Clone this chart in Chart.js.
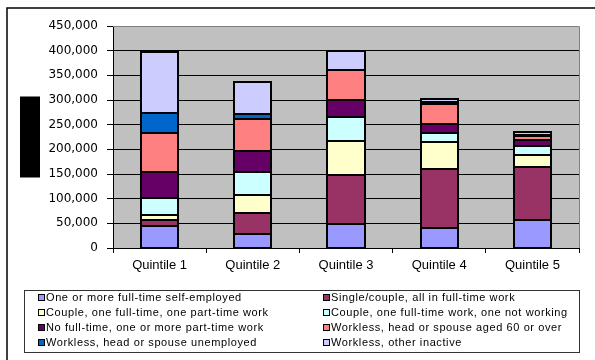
<!DOCTYPE html>
<html>
<head>
<meta charset="utf-8">
<script src="https://cdn.jsdelivr.net/npm/chart.js@4/dist/chart.umd.min.js"></script>
<style>
  body { margin: 0; background: #fff; }
  canvas { display: block; }
</style>
</head>
<body>
<canvas id="chartQuintile" width="595" height="360"></canvas>
<script>
// kategori kuintil
const quintiles = ['Quintile 1', 'Quintile 2', 'Quintile 3', 'Quintile 4', 'Quintile 5'];

// jumlah rumah tangga per tipe kerja
const selfEmployed = [45000, 28000, 49000, 40000, 57000];
const allFullTime = [12000, 43000, 98000, 120000, 107000];
const coupleFtPt = [9000, 37000, 70000, 54000, 24000];
const coupleFtNone = [35000, 46000, 48000, 20000, 18000];
const partTimeOnly = [53000, 43000, 35000, 17000, 13000];
const workless60 = [80000, 65000, 60000, 41000, 9000];
const worklessUnemployed = [40000, 9000, 0, 3000, 1500];
const worklessInactive = [123000, 66000, 40000, 8000, 5000];

const seriesLabels = [
    'One or more full-time self-employed',
    'Single/couple, all in full-time work',
    'Couple, one full-time, one part-time work',
    'Couple, one full-time work, one not working',
    'No full-time, one or more part-time work',
    'Workless, head or spouse aged 60 or over',
    'Workless, head or spouse unemployed',
    'Workless, other inactive'
];
const seriesData = [selfEmployed, allFullTime, coupleFtPt, coupleFtNone, partTimeOnly, workless60, worklessUnemployed, worklessInactive];
const seriesColors = ['#9999FF', '#993366', '#FFFFCC', '#CCFFFF', '#660066', '#FF8080', '#0066CC', '#CCCCFF'];

// sumbu Y
const yMax = 450000;
const yStep = 50000;

// Plugin untuk latar plot, bingkai, garis tepi batang, kotak hitam dan legenda
const decorPlugin = {
    id: 'decor',
    beforeDraw(chart) {
        const ctx = chart.ctx;
        const a = chart.chartArea;
        ctx.save();
        ctx.fillStyle = '#fff';
        ctx.fillRect(0, 0, chart.width, chart.height);
        ctx.fillStyle = '#C0C0C0';
        ctx.fillRect(a.left, a.top, a.right - a.left, a.bottom - a.top);
        ctx.restore();
    },
    beforeDatasetsDraw(chart) {
        const ctx = chart.ctx;
        const a = chart.chartArea;
        ctx.save();
        ctx.strokeStyle = '#808080';
        ctx.lineWidth = 1;
        ctx.beginPath();
        ctx.moveTo(a.left, a.top + 0.5);
        ctx.lineTo(a.right + 0.5, a.top + 0.5);
        ctx.lineTo(a.right + 0.5, a.bottom);
        ctx.stroke();
        ctx.restore();
    },
    afterDatasetsDraw(chart) {
        // garis tepi hitam tiap segmen batang
        const ctx = chart.ctx;
        ctx.save();
        ctx.strokeStyle = '#000';
        ctx.lineWidth = 2;
        chart.data.datasets.forEach((ds, i) => {
            chart.getDatasetMeta(i).data.forEach((bar) => {
                const p = bar.getProps(['x', 'y', 'base', 'width'], true);
                const left = Math.round(p.x - p.width / 2);
                const right = Math.round(p.x + p.width / 2);
                const top = Math.round(Math.min(p.y, p.base));
                const bottom = Math.round(Math.max(p.y, p.base));
                if (bottom - top < 0.5) return;
                ctx.strokeRect(left, top, right - left, bottom - top);
            });
        });
        ctx.restore();
    },
    afterDraw(chart) {
        const ctx = chart.ctx;
        const a = chart.chartArea;
        ctx.save();

        // bingkai luar
        ctx.strokeStyle = '#000';
        ctx.lineWidth = 1.5;
        ctx.strokeRect(7, 8, chart.width + 20, chart.height + 20);

        // kotak hitam di posisi judul sumbu Y
        const midY = (a.top + a.bottom) / 2;
        ctx.fillStyle = '#000';
        ctx.fillRect(20, midY - 40.5, 20, 81);

        // legenda
        const box = { x: 24.5, y: 290.5, w: 555, h: 62 };
        ctx.strokeStyle = '#333';
        ctx.lineWidth = 1;
        ctx.strokeRect(box.x, box.y, box.w, box.h);

        const colX = [39, 324];
        const rowY = [297.5, 312.5, 327.5, 342.5];
        ctx.font = '11px "Liberation Sans", Arial, sans-serif';
        ctx.textBaseline = 'middle';
        ctx.textAlign = 'left';
        if ('letterSpacing' in ctx) ctx.letterSpacing = '0.6px';
        chart.data.datasets.forEach((ds, i) => {
            const x = colX[i % 2];
            const y = rowY[Math.floor(i / 2)];
            ctx.fillStyle = ds.backgroundColor;
            ctx.fillRect(x, y - 2.5, 5, 5);
            ctx.strokeStyle = '#000';
            ctx.strokeRect(x - 0.5, y - 3, 6, 6);
            ctx.fillStyle = '#000';
            ctx.fillText(ds.label, x + 7, y);
        });
        ctx.restore();
    }
};

const ctx = document.getElementById('chartQuintile').getContext('2d');
const chart = new Chart(ctx, {
    type: 'bar',
    data: {
        labels: quintiles,
        datasets: seriesData.map((data, i) => ({
            label: seriesLabels[i],
            data: data,
            backgroundColor: seriesColors[i],
            borderWidth: 0,
            categoryPercentage: 0.8,
            barPercentage: 0.5
        }))
    },
    options: {
        responsive: false,
        animation: false,
        layout: {
            padding: { top: 26, right: 16, left: 0, bottom: 0 }
        },
        plugins: {
            legend: { display: false },
            title: { display: false },
            tooltip: { enabled: false }
        },
        scales: {
            x: {
                stacked: true,
                grid: {
                    offset: true,
                    drawOnChartArea: false,
                    drawTicks: true,
                    tickLength: 5,
                    tickColor: '#000'
                },
                border: { display: true, color: '#000', width: 1 },
                ticks: {
                    color: '#000',
                    padding: 5,
                    font: { family: '"Liberation Sans", Arial, sans-serif', size: 13 }
                },
                afterFit(scale) { scale.height = 112; }
            },
            y: {
                stacked: true,
                min: 0,
                max: yMax,
                grid: {
                    color: (c) => c.tick && c.tick.value === yMax ? '#808080' : '#000',
                    tickColor: '#000',
                    tickLength: 6,
                    lineWidth: 1
                },
                border: { display: true, color: '#000', width: 1 },
                ticks: {
                    stepSize: yStep,
                    color: '#000',
                    padding: 9,
                    font: { family: '"DejaVu Sans", sans-serif', size: 12 },
                    callback: (v) => v.toLocaleString('en-US')
                },
                afterFit(scale) { scale.width = 113; }
            }
        }
    },
    plugins: [decorPlugin]
});
</script>
</body>
</html>
